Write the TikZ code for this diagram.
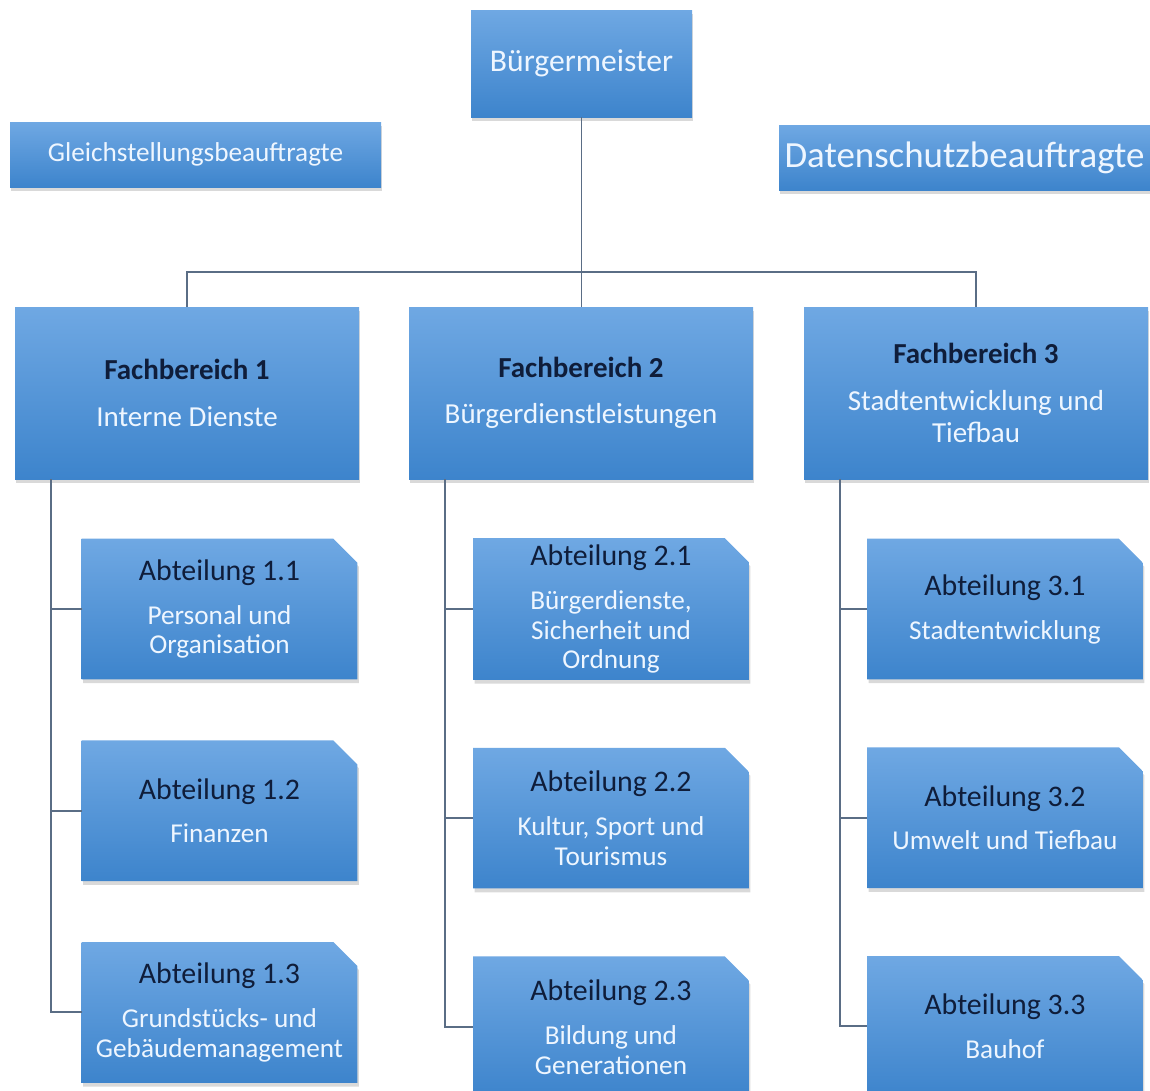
\documentclass[tikz,border=0pt]{standalone}
\usepackage{fontspec}
\setmainfont{Carlito}
\usetikzlibrary{positioning,shadows,backgrounds,calc}

\definecolor{boxoben}{HTML}{6FA8E3}
\definecolor{boxunten}{HTML}{3D84CC}
\definecolor{kopfblau}{HTML}{0F1D3A}
\definecolor{schrift}{HTML}{EEF6FF}
\definecolor{strich}{HTML}{5A6D85}

\newcommand{\kopf}[1]{{\color{kopfblau}#1}}

\tikzset{
  schatten/.style={drop shadow={opacity=0.3, shadow xshift=0.8pt, shadow yshift=-2.2pt}},
  kasten/.style={top color=boxoben, bottom color=boxunten, schatten, align=center, text=schrift, inner sep=2pt},
  fbbox/.style={kasten, minimum width=6.88cm, minimum height=3.44cm, font=\fontsize{16.5}{18}\selectfont},
  abtbox/.style={minimum width=5.5cm, minimum height=2.8cm, align=center, text=schrift, font=\fontsize{15.5}{17}\selectfont},
  abtform/.style={top color=boxoben, bottom color=boxunten, schatten},
  verbinder/.style={draw=strich, line width=1.1pt}
}

\begin{document}
\begin{tikzpicture}
  \useasboundingbox (0,0) rectangle (23,-21.82);
  % Leitung
  \node[kasten, minimum width=4.42cm, minimum height=2.14cm, font=\fontsize{18}{21}\selectfont] (bm) at (11.63,-1.27) {Bürgermeister};
  \node[kasten, minimum width=7.42cm, minimum height=1.3cm, font=\fontsize{15.5}{18}\selectfont] (gleich) at (3.91,-3.09) {Gleichstellungsbeauftragte};
  \node[kasten, minimum width=7.42cm, minimum height=1.3cm, font=\fontsize{21}{24}\selectfont] (daten) at (19.29,-3.15) {Datenschutzbeauftragte};
  % Fachbereiche
  \node[fbbox] (fb1) at (3.74,-7.86) {\kopf{\textbf{Fachbereich 1}}\\[8.5pt] Interne Dienste};
  \node[fbbox] (fb2) at (11.62,-7.86) {\kopf{\textbf{Fachbereich 2}}\\[8.5pt] Bürgerdienstleistungen};
  \node[fbbox] (fb3) at (19.52,-7.86) {\kopf{\textbf{Fachbereich 3}}\\[8.5pt] Stadtentwicklung und\\ Tiefbau};
  % Abteilungen
  \node[abtbox] (a11) at (4.39,-12.18) {\kopf{\fontsize{17}{19}\selectfont Abteilung 1.1}\\[8pt] Personal und\\ Organisation};
  \node[abtbox, below=1.22cm of a11] (a12) {\kopf{\fontsize{17}{19}\selectfont Abteilung 1.2}\\[8pt] Finanzen};
  \node[abtbox, below=1.22cm of a12] (a13) {\kopf{\fontsize{17}{19}\selectfont Abteilung 1.3}\\[8pt] Grundstücks- und\\ Gebäudemanagement};
  \node[abtbox] (a21) at (12.22,-12.18) {\kopf{\fontsize{17}{19}\selectfont Abteilung 2.1}\\[8pt] Bürgerdienste,\\ Sicherheit und\\ Ordnung};
  \node[abtbox, below=1.36cm of a21] (a22) {\kopf{\fontsize{17}{19}\selectfont Abteilung 2.2}\\[8pt] Kultur, Sport und\\ Tourismus};
  \node[abtbox, below=1.36cm of a22] (a23) {\kopf{\fontsize{17}{19}\selectfont Abteilung 2.3}\\[8pt] Bildung und\\ Generationen};
  \node[abtbox] (a31) at (20.10,-12.18) {\kopf{\fontsize{17}{19}\selectfont Abteilung 3.1}\\[8pt] Stadtentwicklung};
  \node[abtbox, below=1.36cm of a31] (a32) {\kopf{\fontsize{17}{19}\selectfont Abteilung 3.2}\\[8pt] Umwelt und Tiefbau};
  \node[abtbox, below=1.36cm of a32] (a33) {\kopf{\fontsize{17}{19}\selectfont Abteilung 3.3}\\[8pt] Bauhof};
  % Kastenform mit abgeschnittener Ecke
  \begin{scope}[on background layer]
    \foreach \n in {a11,a12,a13,a21,a22,a23,a31,a32,a33}
      \shade[abtform] (\n.south west) -- (\n.north west) -- ($(\n.north east)+(-0.48,0)$) -- ($(\n.north east)+(0,-0.48)$) -- (\n.south east) -- cycle;
  \end{scope}
  % Linien
  \draw[verbinder] (bm.south) -- (bm.south |- fb2.north);
  \draw[verbinder] (fb1.north) -- ++(0,0.7) -| (fb3.north);
  \foreach \f in {1,2,3}
    \foreach \a in {1,2,3}
      \draw[verbinder] ([xshift=0.72cm]fb\f.south west) |- (a\f\a.west);
\end{tikzpicture}
\end{document}
